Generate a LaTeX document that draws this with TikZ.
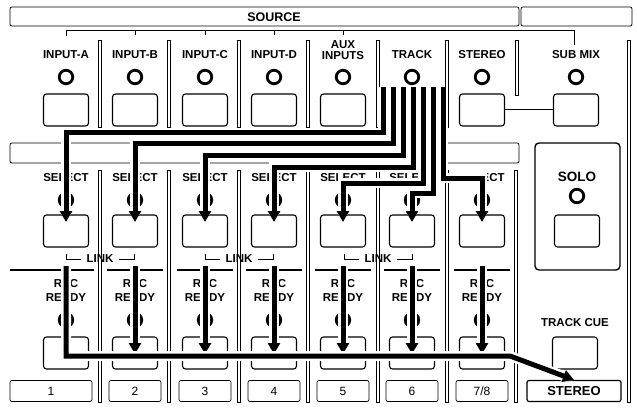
\documentclass[tikz,border=0pt]{standalone}
\usepackage{fontspec}
\setmainfont{Liberation Sans}
\usetikzlibrary{arrows.meta}
\newcommand\seveneight{7/8}
\tikzset{
	lbl/.style={font=\bfseries\fontsize{11.5}{12}\selectfont, inner sep=0pt},
	numlbl/.style={font=\fontsize{12}{13}\selectfont, inner sep=0pt},
	btn/.style={draw, line width=1.1pt, rounded corners=3pt, minimum width=45pt, minimum height=32pt, inner sep=0pt},
	led/.style={draw, circle, line width=2.8pt, minimum size=13.5pt, inner sep=0pt},
	numbox/.style={draw, line width=0.7pt, rounded corners=2pt, minimum height=21pt, inner sep=0pt},
	sep/.style={draw, line width=0.6pt, fill=white},
	route/.style={line width=5pt, preaction={draw, white, line width=10pt}},
	tip/.style={-{Triangle[length=11pt,width=12pt]}}
}
\begin{document}
\begin{tikzpicture}[x=1pt,y=-1pt]
	\useasboundingbox (0,0) rectangle (637,409);
	% top bars
	\draw[line width=0.7pt, rounded corners=2pt] (10,7) rectangle (519,26);
	\draw[line width=0.7pt, rounded corners=2pt] (521,7) rectangle (632,26);
	\node[lbl, font=\bfseries\fontsize{12.5}{13}\selectfont] (source) at (274,17) {SOURCE};
	\draw[line width=1pt] (66,36) -- (66,31) -- (574,31) -- (574,45);
	\foreach \x in {135,205,274,343} \draw[line width=1pt] (\x,31) -- (\x,35);
	% source selectors
	\foreach \x/\n/\t in {66/inA/INPUT-A,135/inB/INPUT-B,205/inC/INPUT-C,274/inD/INPUT-D,412/trk/TRACK,482/st/STEREO,576/sub/SUB MIX} {
		\node[lbl] (\n-l) at (\x,55) {\t};
		\node[led] (\n-led) at (\x,77) {};
		\node[btn] (\n) at (\x,110) {};
	}
	\node[lbl, align=center, font=\bfseries\fontsize{11.5}{11}\selectfont] (aux-l) at (343,50) {AUX\\INPUTS};
	\node[led] (aux-led) at (343,77) {};
	\node[btn] (aux) at (343,110) {};
	\draw[line width=1pt] (st.east) -- (sub.west);
	\foreach \x in {100,169,239,308,378,447} \draw[sep] (\x-1.5,40) rectangle (\x+1.5,127);
	\draw[sep] (515,40) rectangle (518,95);
	\draw[sep] (627,40) rectangle (630,402);
	% second bar and solo
	\draw[line width=0.7pt, rounded corners=2pt] (10,143) rectangle (519,163);
	\draw[line width=1.4pt, rounded corners=4pt] (535,143) rectangle (620,270);
	\node[lbl, font=\bfseries\fontsize{13.5}{14}\selectfont] (solo-l) at (577,177) {SOLO};
	\node[led] (solo-led) at (577,196) {};
	\node[btn] (solo) at (577,231) {};
	\node[lbl] (cue-l) at (575,323) {TRACK CUE};
	\node[btn] (cue) at (575,353) {};
	\node[numbox, minimum width=94pt, line width=1.2pt] (stbox) at (574,391) {};
	\node[lbl, font=\bfseries\fontsize{13}{14}\selectfont] at (stbox) {STEREO};
	% channel strips
	\foreach \x in {100,169,239,308,378,447,516} \draw[sep] (\x-1.5,170) rectangle (\x+1.5,402);
	\foreach \x/\i/\t/\nx/\w in {66/1/1/51/82,135/2/2/135/52,205/3/3/205/52,274/4/4/274/52,343/5/5/343/52,412/6/6/412/52,482/7/\seveneight/482/52} {
		\node[lbl] (sl\i) at (\x,178) {SELECT};
		\node[led] (sled\i) at (\x,200) {};
		\node[btn] (sel\i) at (\x,231) {};
		\draw[line width=1.5pt] (\x-28,270) -- (\x+28,270);
		\node[lbl, align=center, font=\bfseries\fontsize{11.5}{14}\selectfont] (rl\i) at (\x,290) {REC\\READY};
		\node[led] (rled\i) at (\x,320) {};
		\node[btn] (rec\i) at (\x,353) {};
		\node[numbox, minimum width=\w pt] (num\i) at (\nx,391) {};
		\node[numlbl] at (num\i) {\t};
	}
	\draw[line width=1.5pt] (10,270) -- (38,270);
	\foreach \x/\n in {100/a,239/b,378/c} {
		\node[lbl] (link\n) at (\x,259) {LINK};
		\draw[line width=1pt] (\x-34,254) -- (\x-34,259) -- (\x-19,259);
		\draw[line width=1pt] (\x+19,259) -- (\x+34,259) -- (\x+34,254);
	}
	% routes from TRACK
	\coordinate (t1) at (383,87);
	\coordinate (t2) at (393,87);
	\coordinate (t3) at (403,87);
	\coordinate (t4) at (413,87);
	\coordinate (t5) at (423,87);
	\coordinate (t6) at (433,87);
	\coordinate (t7) at (443,87);
	\draw[route, tip] (t7) |- (482,178) -- ([yshift=9pt]sel7.center);
	\draw[route, tip] (t6) |- (412,193) -- ([yshift=9pt]sel6.center);
	\draw[route, tip] (t5) |- (343,183) -- ([yshift=9pt]sel5.center);
	\draw[route, tip] (t4) |- (274,167) -- ([yshift=9pt]sel4.center);
	\draw[route, tip] (t3) |- (205,155) -- ([yshift=9pt]sel3.center);
	\draw[route, tip] (t2) |- (135,144) -- ([yshift=9pt]sel2.center);
	\draw[route, tip] (t1) |- (66,133) -- ([yshift=9pt]sel1.center);
	% routes to STEREO
	\foreach \i in {2,...,7} \draw[route, tip] (rec\i |- 0,266) -- ([yshift=-1pt]rec\i.center);
	\draw[route, tip] (66,266) -- (66,356) -- (510,356) -- (stbox.north);
\end{tikzpicture}
\end{document}
